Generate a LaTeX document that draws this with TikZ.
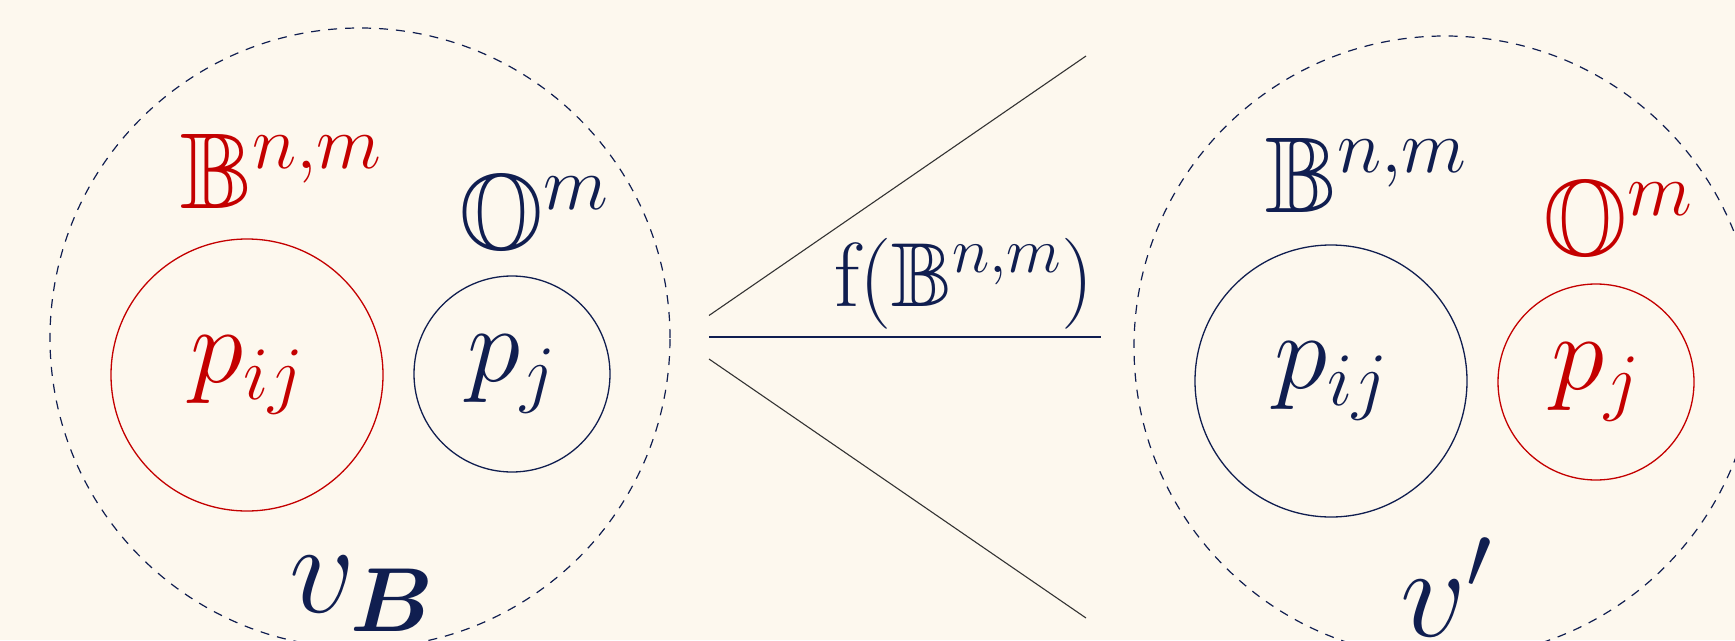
\RequirePackage{fix-cm}
\documentclass[tikz,border=0pt]{standalone}
\usepackage{amsmath,amssymb}
\definecolor{bgc}{RGB}{253,248,238}
\definecolor{navy}{RGB}{16,30,80}
\definecolor{dred}{RGB}{196,0,0}
\begin{document}
\begin{tikzpicture}[x=1pt,y=-1pt,
  outer/.style={circle, draw=navy, dash pattern=on 9pt off 8pt, line width=1.2pt, inner sep=0pt},
  inner/.style={circle, line width=1.3pt, inner sep=0pt, font=\fontsize{108}{130}\selectfont},
  lbl/.style={inner sep=0pt, anchor=base west, font=\fontsize{108}{130}\selectfont},
  biglbl/.style={inner sep=0pt, anchor=base west, font=\fontsize{130}{156}\selectfont},
  fnlbl/.style={inner sep=0pt, anchor=base west, font=\fontsize{91}{110}\selectfont},
  ray/.style={line width=1.1pt, draw=black!80}]
\fill[bgc] (0,0) rectangle (1735,640);
\useasboundingbox (0,0) rectangle (1735,640);
% left group
\node[outer, minimum size=620pt] (vB) at (360,338) {};
\node[inner, draw=dred, text=dred, minimum size=272pt] (pijL) at (247,375) {$p_{ij}$};
\node[inner, draw=navy, text=navy, minimum size=196pt] (pjL) at (512,374) {$p_j$};
\node[lbl, text=dred] (BL) at (180,208) {$\mathbb{B}^{n,m}$};
\node[lbl, text=navy] (OL) at (459,249) {$\mathbb{O}^{m}$};
\node[biglbl, text=navy] (vBlab) at (289,612) {$v_{\boldsymbol{B}}$};
% right group
\node[outer, minimum size=622pt] (vp) at (1445,347) {};
\node[inner, draw=navy, text=navy, minimum size=272pt] (pijR) at (1331,381) {$p_{ij}$};
\node[inner, draw=dred, text=dred, minimum size=196pt] (pjR) at (1596,382) {$p_j$};
\node[lbl, text=navy] (BR) at (1265,212) {$\mathbb{B}^{n,m}$};
\node[lbl, text=dred] (OR) at (1543,255) {$\mathbb{O}^{m}$};
\node[biglbl, text=navy] (vplab) at (1400,636) {$v'$};
% rays
\coordinate (t0) at (709,315.5);
\coordinate (t1) at (1086,56);
\coordinate (m0) at (709,337);
\coordinate (m1) at (1101,337);
\coordinate (b0) at (709,359);
\coordinate (b1) at (1086,618);
\draw[ray] (t0) -- (t1);
\draw[line width=1.1pt, draw=navy] (m0) -- (m1);
\draw[ray] (b0) -- (b1);
\node[fnlbl, text=navy] (flab) at (834,306) {$\mathrm{f}(\mathbb{B}^{n,m})$};
\end{tikzpicture}
\end{document}
